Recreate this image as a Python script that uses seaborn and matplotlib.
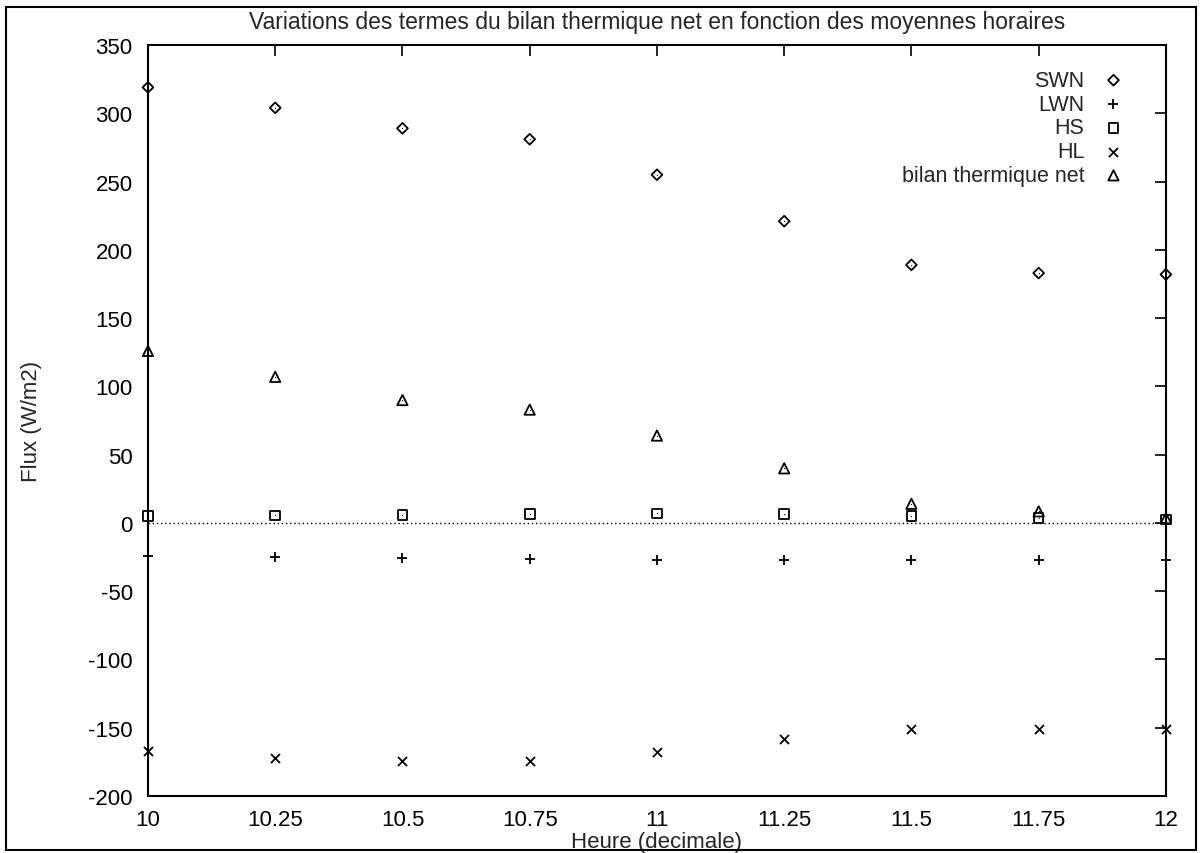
import numpy as np
import pandas as pd
import seaborn as sns
import matplotlib.pyplot as plt
from matplotlib.patches import Rectangle
from matplotlib.ticker import FuncFormatter

# hourly means (decimal hour)
heure = [10, 10.25, 10.5, 10.75, 11, 11.25, 11.5, 11.75, 12]
swn = [319, 304, 289, 281, 255, 221, 189, 183, 182]
lwn = [-24.5, -25, -26, -26.5, -27, -27, -27, -27, -27]
hs = [5, 5.5, 6, 6.5, 7, 6.5, 5, 3.5, 2.5]
hl = [-167, -172, -174, -174, -168, -158, -151, -151, -151]
bilan = [126, 107, 90, 83, 64, 40, 14, 8.5, 3.5]

series = [
    ("SWN", swn, "D", 30, True),
    ("LWN", lwn, "+", 60, False),
    ("HS", hs, "s", 48, True),
    ("HL", hl, "x", 42, False),
    ("bilan thermique net", bilan, "^", 55, True),
]

sns.set_theme(style="white")
plt.rcParams["font.family"] = ["Liberation Sans", "DejaVu Sans"]
plt.rcParams["axes.unicode_minus"] = False

fig = plt.figure(figsize=(12, 8.54), dpi=100)
ax = fig.add_axes([0.1233, 0.0667, 0.8483, 0.8794])

for name, vals, mk, size, hollow in series:
    df = pd.DataFrame({"heure": heure, "flux": vals})
    if hollow:
        sns.scatterplot(data=df, x="heure", y="flux", marker=mk, s=size,
                        facecolor="none", edgecolor="black", linewidth=1.3,
                        label=name, clip_on=False, zorder=3, ax=ax)
        sns.scatterplot(data=df, x="heure", y="flux", marker=".", s=3,
                        color="black", linewidth=0, legend=False,
                        clip_on=False, zorder=3, ax=ax)
    else:
        sns.scatterplot(data=df, x="heure", y="flux", marker=mk, s=size,
                        color="black", linewidth=1.3, label=name,
                        clip_on=False, zorder=3, ax=ax)

ax.axhline(0, color="black", ls=(0, (1, 2)), lw=1, zorder=1)

ax.set_xlim(10, 12)
ax.set_ylim(-200, 350)
ax.set_xticks(np.arange(10, 12.01, 0.25))
ax.set_yticks(np.arange(-200, 351, 50))
ax.xaxis.set_major_formatter(FuncFormatter(lambda v, p: f"{v:g}"))
ax.tick_params(direction="in", top=True, right=True, length=8, width=1.2,
               labelsize=16, colors="black")
ax.tick_params(axis="x", pad=9)
ax.tick_params(axis="y", pad=11)
for sp in ax.spines.values():
    sp.set_color("black")
    sp.set_linewidth(1.5)

ax.set_title("Variations des termes du bilan thermique net en fonction des moyennes horaires",
             fontsize=16.5, pad=12)
ax.set_xlabel("Heure (decimale)", fontsize=16, labelpad=1)
ax.set_ylabel("Flux (W/m2)", fontsize=16)
ax.yaxis.set_label_coords(-0.104, 0.5)

ax.legend(loc="upper right", bbox_to_anchor=(0.958, 0.967), frameon=False,
          markerfirst=False, fontsize=15.5, borderpad=0, borderaxespad=0,
          labelspacing=0.13, handletextpad=0.9, handlelength=0.9)

fig.patches.append(Rectangle((0.005, 0.003), 0.992, 0.988, transform=fig.transFigure,
                             fill=False, edgecolor="black", lw=1.5))

fig.savefig("out.png", dpi=100, facecolor="white")
